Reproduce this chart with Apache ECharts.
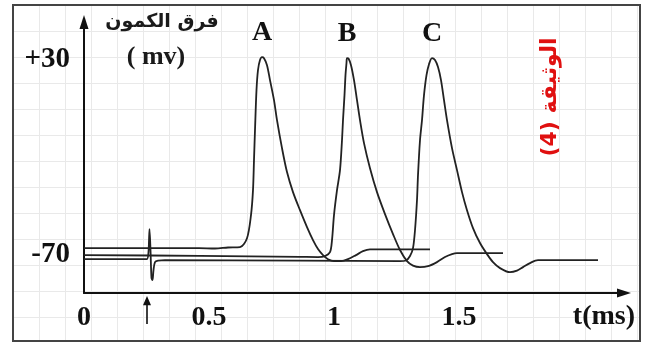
<!DOCTYPE html>
<html>
<head>
<meta charset="utf-8">
<script src="https://cdn.jsdelivr.net/npm/echarts@6/dist/echarts.min.js"></script>
<style>html,body{margin:0;padding:0;background:#fff;}#c{width:651px;height:349px;}</style>
</head>
<body>
<div id="c"></div>
<script>
// time in ms, membrane potential difference in mV
const seriesNames = ['A', 'B', 'C'];
const curveA = [[0,-66.9],[0.46,-66.9],[0.524,-67.1],[0.576,-66.6],[0.624,-66.4],[0.652,-61.8],[0.668,-49.9],[0.676,-37.1],[0.68,-21.6],[0.684,-6.2],[0.69,14.4],[0.696,24.7],[0.704,29.8],[0.712,31.3],[0.72,30.8],[0.732,27.2],[0.744,19.5],[0.76,9.2],[0.772,-1.1],[0.792,-15.5],[0.812,-27.8],[0.836,-38.1],[0.864,-47.4],[0.892,-56.1],[0.916,-62.8],[0.936,-67.4],[0.956,-70.5],[0.976,-72.6],[1.0,-73.6],[1.028,-73.6],[1.056,-72.6],[1.088,-70.5],[1.116,-68.5],[1.144,-67.6],[1.204,-67.6],[1.384,-67.6]];
const curveB = [[0,-70.5],[0.464,-70.9],[0.864,-71.4],[0.936,-71.5],[0.964,-71.0],[0.984,-69.0],[0.992,-62.8],[1.0,-49.9],[1.012,-37.1],[1.024,-26.8],[1.032,-11.4],[1.036,-1.1],[1.042,11.8],[1.046,22.1],[1.05,28.3],[1.052,30.8],[1.058,30.6],[1.068,27.2],[1.08,19.5],[1.092,9.2],[1.104,-1.1],[1.12,-12.9],[1.144,-25.8],[1.172,-38.1],[1.204,-49.4],[1.236,-59.7],[1.264,-67.9],[1.292,-73.6],[1.316,-75.9],[1.344,-76.7],[1.376,-76.2],[1.412,-74.1],[1.444,-71.5],[1.472,-70.0],[1.492,-69.5],[1.564,-69.5],[1.676,-69.5]];
const curveC = [[0,-72.6],[0.248,-72.6],[0.252,-72.6],[0.258,-69.0],[0.262,-57.1],[0.266,-67.9],[0.27,-82.3],[0.274,-83.4],[0.278,-78.2],[0.284,-74.1],[0.296,-73.3],[0.324,-73.1],[0.864,-73.3],[1.264,-73.6],[1.288,-73.3],[1.304,-71.0],[1.316,-66.9],[1.324,-57.7],[1.332,-42.2],[1.336,-29.4],[1.344,-11.4],[1.352,-1.1],[1.36,11.8],[1.37,22.1],[1.38,27.7],[1.392,30.8],[1.404,29.8],[1.416,26.2],[1.428,19.5],[1.44,9.2],[1.452,-1.1],[1.472,-15.5],[1.492,-26.8],[1.512,-38.1],[1.532,-47.4],[1.556,-56.6],[1.584,-64.3],[1.612,-70.0],[1.636,-74.1],[1.664,-77.2],[1.704,-79.3],[1.732,-78.5],[1.756,-76.7],[1.784,-74.6],[1.816,-73.1],[1.864,-73.1],[2.056,-73.1]];
const xTickLabels = [0, 0.5, 1, 1.5];
const yTickLabels = { '30': '+30', '-70': '-70' };
const stimulusTime = 0.252;
const yTitle = 'فرق الكمون';
const yUnit = '( mv)';
const xTitle = 't(ms)';
const docLabel = '(4) الوثيقة';

const chart = echarts.init(document.getElementById('c'), null, { renderer: 'canvas' });
const serif = '"Liberation Serif", "Times New Roman", serif';
const curves = [curveA, curveB, curveC];

const lineSeries = curves.map((d, i) => ({
  type: 'line',
  name: seriesNames[i],
  xAxisIndex: 0, yAxisIndex: 0,
  data: d,
  smooth: 0.3,
  symbol: 'none',
  lineStyle: { color: '#222', width: 1.8 },
  z: 5,
  markPoint: {
    symbol: 'circle', symbolSize: 1,
    itemStyle: { color: 'rgba(0,0,0,0)' },
    label: {
      show: true, position: 'inside', offset: [0, -24],
      formatter: (p) => p.seriesName,
      fontFamily: serif, fontWeight: 'bold', fontSize: 28, color: '#111'
    },
    data: [{ type: 'max' }]
  }
}));

// stimulus arrow under the time axis
const stimSeries = {
  type: 'line', xAxisIndex: 0, yAxisIndex: 0, data: [], symbol: 'none',
  markPoint: {
    symbol: 'path://M5,0 L10,10 L6,10 L6,30 L4,30 L4,10 L0,10 Z',
    symbolSize: [8, 28], symbolOffset: [0, 17],
    itemStyle: { color: '#111' }, label: { show: false },
    data: [{ coord: [stimulusTime, -90] }]
  }
};

chart.setOption({
  animation: false,
  grid: [
    { left: 84, top: 22, width: 540, height: 271 },
    { left: 13, top: 5, width: 627, height: 336 }
  ],
  xAxis: [
    {
      type: 'value', gridIndex: 0, min: 0, max: 2.16, interval: 0.5,
      axisLine: { show: true, onZero: false, symbol: ['none', 'triangle'], symbolSize: [9, 14], lineStyle: { color: '#111', width: 2 } },
      axisTick: { show: false }, splitLine: { show: false },
      axisLabel: {
        margin: 11, fontFamily: serif, fontWeight: 'bold', fontSize: 28, color: '#111',
        showMaxLabel: false,
        formatter: (v) => xTickLabels.indexOf(+v.toFixed(2)) >= 0 ? String(+v.toFixed(2)) : ''
      },
      name: xTitle, nameLocation: 'end', nameGap: 11,
      nameTextStyle: { align: 'right', verticalAlign: 'top', padding: [10, 0, 0, 0], fontFamily: serif, fontWeight: 'bold', fontSize: 28, color: '#111' }
    },
    {
      type: 'value', gridIndex: 1, min: 0, max: 627, interval: 26,
      axisLine: { show: false }, axisTick: { show: false }, axisLabel: { show: false },
      splitLine: { show: true, lineStyle: { color: '#e9e9e9', width: 1 } }
    }
  ],
  yAxis: [
    {
      type: 'value', gridIndex: 0, min: -90, max: 49.4, interval: 10,
      axisLine: { show: true, onZero: false, symbol: ['none', 'triangle'], symbolSize: [9, 14], lineStyle: { color: '#111', width: 2 } },
      axisTick: { show: false }, splitLine: { show: false },
      axisLabel: {
        margin: 14, fontFamily: serif, fontWeight: 'bold', fontSize: 29, color: '#111',
        showMaxLabel: false, showMinLabel: false,
        formatter: (v) => yTickLabels[String(Math.round(v))] || ''
      }
    },
    {
      type: 'value', gridIndex: 1, min: 0, max: 336, interval: 26, inverse: true,
      axisLine: { show: false }, axisTick: { show: false }, axisLabel: { show: false },
      splitLine: { show: true, lineStyle: { color: '#e9e9e9', width: 1 } }
    }
  ],
  series: lineSeries.concat([stimSeries]),
  graphic: [
    { type: 'rect', z: 100, shape: { x: 13, y: 5, width: 627, height: 336 }, style: { fill: 'none', stroke: '#444', lineWidth: 2 } },
    { type: 'text', z: 100, x: 162, y: 22, style: { text: yTitle, align: 'center', verticalAlign: 'middle', font: 'bold 19px "DejaVu Sans", sans-serif', fill: '#1a1a1a' } },
    { type: 'text', z: 100, x: 156, y: 57, style: { text: yUnit, align: 'center', verticalAlign: 'middle', font: 'bold 26px "Liberation Serif", serif', fill: '#1a1a1a' } },
    { type: 'text', z: 100, x: 550, y: 97, rotation: Math.PI / 2, style: { text: docLabel, align: 'center', verticalAlign: 'middle', font: 'bold 22px "DejaVu Sans", sans-serif', fill: '#e01010' } }
  ]
});
</script>
</body>
</html>
